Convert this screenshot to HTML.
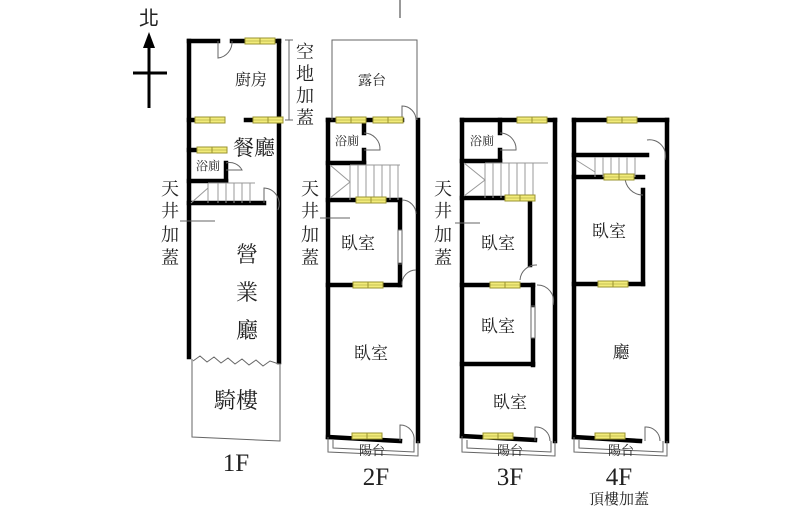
<!DOCTYPE html>
<html><head><meta charset="utf-8"><style>
html,body{margin:0;padding:0;background:#fff}
svg{display:block}
text{font-family:"Liberation Serif","Noto Serif CJK SC","Noto Sans CJK TC",serif;fill:#222}
.s{font-family:"Liberation Sans","Noto Sans CJK TC",sans-serif}
</style></head><body>
<svg width="800" height="523" viewBox="0 0 800 523" xmlns="http://www.w3.org/2000/svg">
<defs>
<g id="win"><rect x="0" y="-3" width="30" height="6" fill="#f3ec7a" stroke="#9a9330" stroke-width="1"/><line x1="15" y1="-3" x2="15" y2="3" stroke="#9a9330"/><line x1="0" y1="0" x2="30" y2="0" stroke="#9a9330" stroke-width="0.6"/></g>
</defs>
<text x="139" y="25" font-size="20" class="s">北</text>
<line x1="149" y1="45" x2="149" y2="108" stroke="#000" stroke-width="3"/>
<polygon points="149,32 143,48 155,48" fill="#000"/>
<line x1="133" y1="73" x2="167" y2="73" stroke="#000" stroke-width="3"/>
<line x1="400" y1="0" x2="400" y2="18" stroke="#333" stroke-width="1"/>

<g stroke="#000" stroke-width="4.5" fill="none" stroke-linecap="square">
<line x1="189" y1="41" x2="189" y2="357"/>
<line x1="279" y1="41" x2="279" y2="362"/>
<line x1="189" y1="41" x2="218" y2="41"/>
<line x1="232" y1="41" x2="279" y2="41"/>
<line x1="189" y1="120" x2="222" y2="120"/>
<line x1="246" y1="120" x2="279" y2="120"/>
<line x1="189" y1="150" x2="212" y2="150"/>
<line x1="189" y1="181" x2="226" y2="181"/>
<line x1="226" y1="163" x2="226" y2="181"/>
<line x1="189" y1="203" x2="264" y2="203"/>
<line x1="328" y1="120" x2="328" y2="437"/>
<line x1="418" y1="120" x2="418" y2="441"/>
<line x1="328" y1="120" x2="402" y2="120"/>
<line x1="364" y1="120" x2="364" y2="133"/>
<line x1="364" y1="150" x2="364" y2="163"/>
<line x1="328" y1="163" x2="364" y2="163"/>
<line x1="328" y1="200" x2="400" y2="200"/>
<line x1="400" y1="200" x2="400" y2="228"/>
<line x1="400" y1="265" x2="400" y2="285"/>
<line x1="328" y1="285" x2="400" y2="285"/>
<line x1="328" y1="437" x2="400" y2="441"/>
<line x1="462" y1="120" x2="462" y2="436"/>
<line x1="555" y1="120" x2="555" y2="441"/>
<line x1="462" y1="120" x2="555" y2="120"/>
<line x1="500" y1="120" x2="500" y2="133"/>
<line x1="500" y1="150" x2="500" y2="161"/>
<line x1="462" y1="161" x2="500" y2="161"/>
<line x1="462" y1="198" x2="530" y2="198"/>
<line x1="530" y1="198" x2="530" y2="265"/>
<line x1="462" y1="285" x2="533" y2="285"/>
<line x1="533" y1="285" x2="533" y2="305"/>
<line x1="533" y1="340" x2="533" y2="365"/>
<line x1="462" y1="364" x2="533" y2="364"/>
<line x1="462" y1="436" x2="535" y2="440"/>
<line x1="574" y1="120" x2="574" y2="437"/>
<line x1="667" y1="120" x2="667" y2="441"/>
<line x1="574" y1="120" x2="667" y2="120"/>
<line x1="574" y1="155" x2="647" y2="155"/>
<line x1="574" y1="177" x2="643" y2="177"/>
<line x1="643" y1="190" x2="643" y2="284"/>
<line x1="574" y1="284" x2="643" y2="284"/>
<line x1="574" y1="437" x2="640" y2="441"/>
</g>
<g stroke="#666" stroke-width="1" fill="none">
<polyline points="192,359 192,437 280,441 280,363"/>
<polyline points="193,361 200,356 207,362 214,357 221,363 228,358 235,364 242,359 249,365 256,360 263,366 270,361 279,364"/>
<polyline points="332,120 332,40 417,40 417,120"/>
<polyline points="328,437 328,452 418,456 418,441"/>
<polyline points="333,440 333,448 414,452 414,441"/>
<polyline points="462,436 462,452 555,456 555,441"/>
<polyline points="467,440 467,448 551,452 551,441"/>
<polyline points="574,437 574,452 667,456 667,441"/>
<polyline points="579,440 579,448 663,452 663,441"/>
<line x1="289" y1="40" x2="289" y2="120"/><line x1="285" y1="40" x2="293" y2="40"/><line x1="285" y1="120" x2="293" y2="120"/>
<line x1="180" y1="221" x2="215" y2="221"/>
<line x1="320" y1="218" x2="350" y2="218"/>
<line x1="455" y1="223" x2="480" y2="223"/>
<path d="M218,41 L218,58 A16,16 0 0 0 232,41"/>
<path d="M264,203 L264,188 A16,16 0 0 1 278,210"/>
<path d="M226,163 A14,14 0 0 1 242,170 L226,170"/>
<path d="M402,120 L402,106 A14,14 0 0 1 416,120"/>
<path d="M364,133 A16,16 0 0 1 380,150 L364,150"/>
<path d="M402,200 A14,14 0 0 1 416,214"/>
<path d="M402,285 A14,14 0 0 1 416,270"/>
<path d="M400,441 L400,425 A14,14 0 0 1 414,441"/>
<path d="M500,133 A16,16 0 0 1 516,150 L500,150"/>
<path d="M537,265 A16,16 0 0 0 520,280"/>
<path d="M537,285 A16,16 0 0 1 553,305"/>
<path d="M535,441 L535,427 A14,14 0 0 1 550,441"/>
<path d="M647,140 A16,16 0 0 1 665,160"/>
<path d="M625,177 A18,18 0 0 0 643,195"/>
<path d="M645,441 L645,427 A14,14 0 0 1 660,441"/>
<rect x="398" y="230" width="4" height="34"/><rect x="531" y="306" width="4" height="32"/>
</g>
<g stroke="#999" stroke-width="1" fill="none">
<path d="M208,183 L208,203 M218,183 L218,203 M226,183 L226,203 M234,183 L234,203 M242,183 L242,203 M250,183 L250,203 M208,183 L255,183 M191,203 L208,188"/>
<path d="M350,165 L350,200 M358,165 L358,200 M366,165 L366,200 M374,165 L374,200 M382,165 L382,200 M390,165 L390,200 M398,165 L398,200 M350,165 L400,165 M330,165 L350,182 L330,198"/>
<path d="M485,163 L485,198 M493,163 L493,198 M501,163 L501,198 M509,163 L509,198 M517,163 L517,198 M525,163 L525,198 M533,163 L533,198 M485,163 L548,163 M464,163 L485,180 L464,196"/>
<path d="M595,157 L595,177 M603,157 L603,177 M611,157 L611,177 M619,157 L619,177 M627,157 L627,177 M635,157 L635,177 M576,160 L595,172"/>
</g>
<use href="#win" x="245" y="41"/>
<use href="#win" x="195" y="120"/>
<use href="#win" x="253" y="120"/>
<use href="#win" x="197" y="150"/>
<use href="#win" x="336" y="120"/>
<use href="#win" x="373" y="120"/>
<use href="#win" x="356" y="200"/>
<use href="#win" x="353" y="285"/>
<use href="#win" x="352" y="436"/>
<use href="#win" x="517" y="120"/>
<use href="#win" x="505" y="198"/>
<use href="#win" x="490" y="285"/>
<use href="#win" x="483" y="436"/>
<use href="#win" x="607" y="120"/>
<use href="#win" x="604" y="177"/>
<use href="#win" x="598" y="284"/>
<use href="#win" x="595" y="436"/>
<text x="251" y="85" font-size="16" text-anchor="middle">廚房</text>
<text x="254" y="155" font-size="21" text-anchor="middle">餐廳</text>
<text x="208" y="170" font-size="12" text-anchor="middle" fill="#555">浴廁</text>
<g font-size="18" text-anchor="middle">
<text x="170" y="195">天</text><text x="170" y="217">井</text><text x="170" y="241">加</text><text x="170" y="264">蓋</text>
<text x="310" y="195">天</text><text x="310" y="217">井</text><text x="310" y="241">加</text><text x="310" y="264">蓋</text>
<text x="443" y="195">天</text><text x="443" y="217">井</text><text x="443" y="241">加</text><text x="443" y="264">蓋</text>
<text x="305" y="58">空</text><text x="305" y="80">地</text><text x="305" y="102">加</text><text x="305" y="124">蓋</text>
</g>
<g font-size="22" text-anchor="middle">
<text x="247" y="262">營</text><text x="247" y="300">業</text><text x="247" y="338">廳</text>
<text x="236" y="408">騎樓</text>
</g>
<text x="372" y="85" font-size="14" text-anchor="middle">露台</text>
<text x="347" y="145" font-size="12" text-anchor="middle" fill="#555">浴廁</text>
<text x="482" y="145" font-size="12" text-anchor="middle" fill="#555">浴廁</text>
<g font-size="17" text-anchor="middle">
<text x="358" y="249">臥室</text>
<text x="371" y="359">臥室</text>
<text x="498" y="249">臥室</text>
<text x="498" y="332">臥室</text>
<text x="510" y="408">臥室</text>
<text x="609" y="237">臥室</text>
<text x="621" y="358">廳</text>
</g>
<g font-size="13" text-anchor="middle" fill="#444">
<text x="372" y="455">陽台</text><text x="510" y="455">陽台</text><text x="621" y="455">陽台</text>
</g>
<g font-size="25" text-anchor="middle">
<text x="236" y="471">1F</text><text x="376" y="485">2F</text><text x="510" y="485">3F</text><text x="619" y="485">4F</text>
</g>
<text x="619" y="504" font-size="15" text-anchor="middle">頂樓加蓋</text>
</svg>
</body></html>
